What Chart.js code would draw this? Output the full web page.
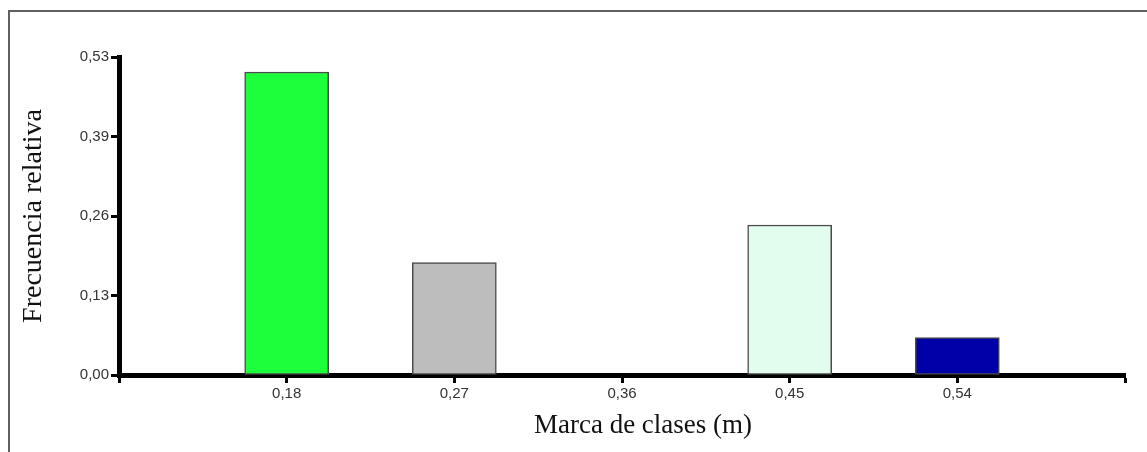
<!DOCTYPE html>
<html>
<head>
<meta charset="utf-8">
<script src="https://cdn.jsdelivr.net/npm/chart.js@4.4.0/dist/chart.umd.min.js"></script>
<style>
  html, body { margin: 0; padding: 0; background: #fff; }
  #wrap { position: relative; width: 1147px; height: 452px; overflow: hidden; }
  #frame { position: absolute; left: 8px; top: 10px; width: 1200px; height: 500px;
           border-top: 2px solid #606060; border-left: 2px solid #606060; box-sizing: border-box; }
  canvas { position: absolute; left: 0; top: 0; }
</style>
</head>
<body>
<div id="wrap">
  <div id="frame"></div>
  <canvas id="c" width="1147" height="452"></canvas>
</div>
<script>
// Data
const categories = ['0,18', '0,27', '0,36', '0,45', '0,54'];
const frecuencias = [0.505, 0.1875, 0, 0.25, 0.0625];
const barColors = ['#1EFF3C', '#BDBDBD', '#FFFFFF', '#E2FDEE', '#0000A8'];
const yTickLabels = ['0,00', '0,13', '0,26', '0,39', '0,53'];
const yMax = 0.53;
const xTitle = 'Marca de clases (m)';
const yTitle = 'Frecuencia relativa';

// axis has an empty slot at each end (0,09 and 0,63)
const labels = [''].concat(categories, ['']);
const values = [null].concat(frecuencias, [null]);
const colors = ['#fff'].concat(barColors, ['#fff']);

const titleFont = '27px "Liberation Serif", "Times New Roman", serif';

// x-axis title drawn slightly right of the plot centre, as in the original
const xTitlePlugin = {
  id: 'xTitlePlugin',
  afterDraw(chart) {
    const ctx = chart.ctx;
    const a = chart.chartArea;
    ctx.save();
    ctx.font = titleFont;
    ctx.fillStyle = '#111';
    ctx.textAlign = 'center';
    ctx.textBaseline = 'middle';
    ctx.fillText(xTitle, (a.left + a.right) / 2 + 21, 426);
    ctx.restore();
  }
};

new Chart(document.getElementById('c'), {
  type: 'bar',
  data: {
    labels: labels,
    datasets: [{
      data: values,
      backgroundColor: colors,
      borderColor: '#4a4a4a',
      borderWidth: 1.5,
      borderSkipped: false,
      barThickness: 84
    }]
  },
  plugins: [xTitlePlugin],
  options: {
    responsive: false,
    animation: false,
    events: [],
    layout: { padding: { top: 57, right: 22, left: 0, bottom: 0 } },
    plugins: { legend: { display: false }, tooltip: { enabled: false } },
    scales: {
      x: {
        offset: false,
        afterFit: s => { s.height = 77; },
        border: { display: true, color: '#000', width: 5 },
        grid: { display: true, drawOnChartArea: false, drawTicks: true, tickLength: 8, tickWidth: 3, color: '#000', offset: false },
        ticks: { color: '#333', font: { family: 'Arial, "Liberation Sans", sans-serif', size: 15 }, padding: 2, maxRotation: 0, autoSkip: false },
        title: { display: false }
      },
      y: {
        min: 0,
        max: yMax,
        afterFit: s => { s.width = 119; },
        border: { display: true, color: '#000', width: 5 },
        grid: { display: true, drawOnChartArea: false, drawTicks: true, tickLength: 8, tickWidth: 3, color: '#000' },
        ticks: {
          count: 5,
          color: '#333',
          font: { family: 'Arial, "Liberation Sans", sans-serif', size: 15 },
          padding: 2,
          callback: (v, i) => yTickLabels[i]
        },
        title: { display: true, text: yTitle, color: '#111', font: { family: '"Liberation Serif", "Times New Roman", serif', size: 28 }, padding: { top: 17, bottom: 0 } }
      }
    }
  }
});
</script>
</body>
</html>
